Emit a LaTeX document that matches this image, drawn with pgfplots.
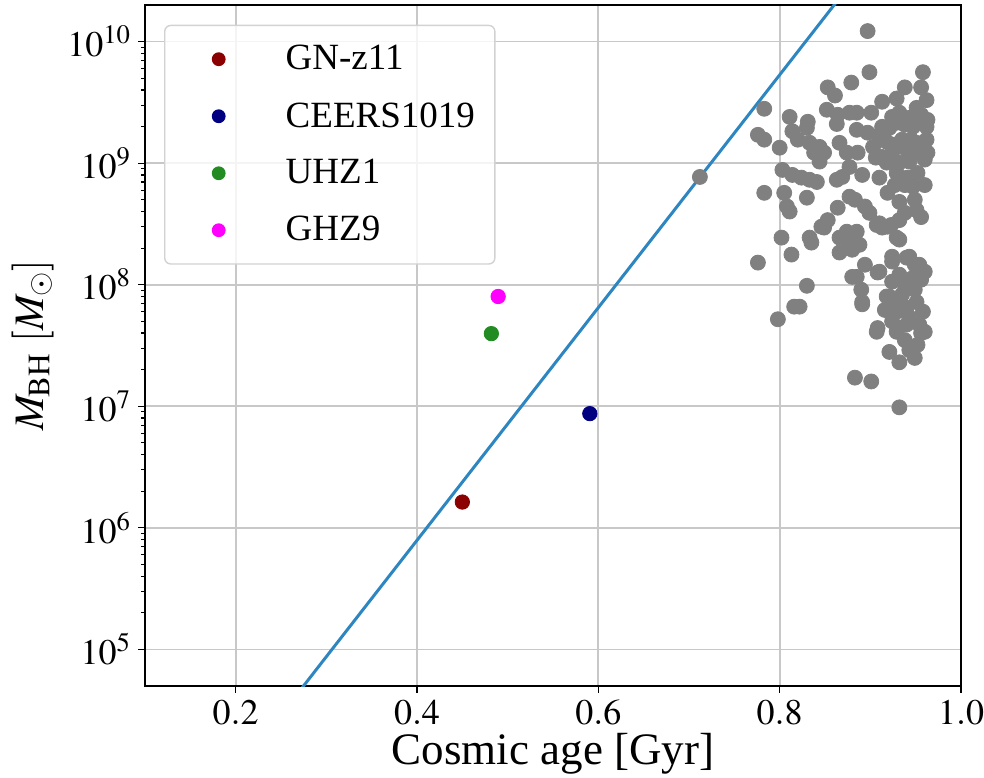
\documentclass[border=0pt]{standalone}
\usepackage{mathptmx}
\usepackage{fontspec}
\setmainfont{Liberation Serif}
\usepackage{pgfplots}
\pgfplotsset{compat=1.18}
\usetikzlibrary{calc}

\definecolor{linecol}{HTML}{2E86C1}
\definecolor{ptgray}{HTML}{808080}
\definecolor{gridgray}{HTML}{C8C8C8}
\definecolor{gnred}{HTML}{8B0000}
\definecolor{ceersblue}{HTML}{000080}
\definecolor{uhzgreen}{HTML}{228B22}
\definecolor{ghzmag}{HTML}{FF00FF}

% quasar black-hole masses versus cosmic age (Gyr, M_sun)
\pgfplotstableread{
t m
0.897 1.22e10
0.899 5.6e9
0.958 5.6e9
0.956 4.2e9
0.938 4.2e9
0.929 3.4e9
0.913 3.2e9
0.879 4.6e9
0.853 4.2e9
0.861 3.6e9
0.783 2.8e9
0.811 2.4e9
0.852 2.75e9
0.864 2.5e9
0.877 2.6e9
0.831 2.19e9
0.885 2.6e9
0.901 2.6e9
0.932 2.6e9
0.951 2.85e9
0.956 2.5e9
0.924 2.4e9
0.943 2.36e9
0.963 2.27e9
0.962 3.3e9
0.938 2.07e9
0.776 1.71e9
0.783 1.56e9
0.800 1.34e9
0.814 1.83e9
0.830 1.95e9
0.820 1.56e9
0.833 1.47e9
0.844 1.36e9
0.838 1.22e9
0.849 1.22e9
0.844 1.03e9
0.866 1.47e9
0.874 1.22e9
0.877 9.3e8
0.885 1.88e9
0.897 1.78e9
0.913 1.99e9
0.929 2.15e9
0.947 1.99e9
0.962 1.99e9
0.962 1.56e9
0.951 1.47e9
0.935 1.56e9
0.918 1.5e9
0.903 1.36e9
0.912 1.13e9
0.924 1.22e9
0.940 1.29e9
0.954 1.22e9
0.963 1.22e9
0.886 1.22e9
0.932 1.01e9
0.918 1.01e9
0.943 1.03e9
0.863 2.1e9
0.906 1.11e9
0.960 1.07e9
0.803 8.8e8
0.814 8.0e8
0.824 7.6e8
0.833 7.3e8
0.841 7.0e8
0.863 7.3e8
0.869 7.7e8
0.783 5.7e8
0.805 5.7e8
0.808 4.4e8
0.811 4.0e8
0.830 5.2e8
0.864 4.3e8
0.853 3.4e8
0.846 3.0e8
0.877 5.3e8
0.891 8.0e8
0.910 7.6e8
0.929 8.3e8
0.941 7.6e8
0.952 8.3e8
0.960 6.6e8
0.947 6.4e8
0.919 5.7e8
0.932 4.8e8
0.949 5.0e8
0.883 5.0e8
0.894 4.4e8
0.899 3.9e8
0.951 4.1e8
0.956 3.6e8
0.938 3.9e8
0.932 3.4e8
0.910 3.2e8
0.919 3.0e8
0.802 2.44e8
0.833 2.44e8
0.835 2.22e8
0.849 2.95e8
0.813 1.77e8
0.776 1.52e8
0.830 9.8e7
0.816 6.6e7
0.822 6.6e7
0.798 5.2e7
0.866 2.44e8
0.874 2.73e8
0.866 1.84e8
0.877 2.13e8
0.880 1.16e8
0.885 2.73e8
0.888 2.13e8
0.880 1.94e8
0.913 2.95e8
0.929 2.44e8
0.923 3.1e8
0.894 1.46e8
0.885 1.16e8
0.890 9.1e7
0.891 6.9e7
0.908 4.4e7
0.910 1.28e8
0.924 1.55e8
0.940 1.67e8
0.954 1.46e8
0.960 1.28e8
0.932 1.21e8
0.947 1.14e8
0.924 1.06e8
0.956 1.10e8
0.921 8.0e7
0.935 8.3e7
0.951 7.2e7
0.958 6.0e7
0.929 6.0e7
0.940 6.5e7
0.924 5.0e7
0.940 4.7e7
0.954 4.7e7
0.960 4.1e7
0.932 2.35e8
0.907 3.1e8
0.907 4.1e7
0.929 4.1e7
0.956 4.0e7
0.921 2.8e7
0.932 2.3e7
0.943 2.9e7
0.949 2.5e7
0.883 1.72e7
0.901 1.6e7
0.932 9.8e6
0.712 7.7e8
0.910 1.71e9
0.927 1.42e9
0.945 1.56e9
0.954 2.27e9
0.921 1.95e9
0.938 6.6e8
0.927 6.6e8
0.949 1.46e8
0.938 1.0e8
0.949 9.1e7
0.927 7.5e7
0.943 5.4e7
0.916 6.2e7
0.938 3.5e7
0.952 3.2e7
0.891 7.2e7
0.918 8.0e7
0.924 1.70e8
0.943 1.70e8
0.908 1.26e8
}\quasars

\begin{document}
\begin{tikzpicture}
\begin{axis}[
  scale only axis,
  width=408pt, height=340.5pt,
  ymode=log,
  xmin=0.1, xmax=1.0,
  ymin=5e4, ymax=2e10,
  xtick={0.2,0.4,0.6,0.8,1.0},
  ytick={1e5,1e6,1e7,1e8,1e9,1e10},
  xticklabel style={/pgf/number format/.cd, fixed, fixed zerofill, precision=1},
  tick label style={font=\rmfamily\fontsize{18}{21}\selectfont, black},
  xlabel style={font=\rmfamily\fontsize{22.5}{26}\selectfont, yshift=3pt},
  ylabel style={font=\rmfamily\fontsize{21}{25}\selectfont},
  xlabel={Cosmic age [Gyr]},
  ylabel={$M_{\mathrm{BH}}$ $[M_\odot]$},
  tick pos=left,
  tick align=outside,
  major tick length=3.5pt,
  minor tick length=2pt,
  every tick/.style={black, line width=0.6pt},
  axis line style={black, line width=0.9pt},
  grid=major,
  major grid style={gridgray, line width=0.9pt},
  legend cell align=left,
  legend style={
    at={(0.0233,0.971)}, anchor=north west,
    draw=gray!35, rounded corners=3pt, line width=0.7pt,
    fill=white, fill opacity=0.8, draw opacity=1, text opacity=1,
    font=\rmfamily\fontsize{18.5}{22}\selectfont,
    inner xsep=8pt, inner ysep=8pt,
    row sep=10.75pt,
  },
  legend image code/.code={%
    \path[draw=none, fill=none] (0pt,-4pt) rectangle (50.5pt,4pt);
    \draw[#1, mark size=3.1pt, fill opacity=1, draw opacity=1] plot coordinates {(19pt,0pt)};
  },
]
% Eddington-limited growth track
\addplot[linecol, line width=1.5pt, forget plot] coordinates {(0.27,4.5e4) (0.87,2.49e10)};
% quasar sample
\addplot[only marks, mark=*, mark size=3.75pt, color=ptgray, forget plot] table[x=t, y=m] {\quasars};
% high-redshift sources
\addplot[only marks, mark=*, mark size=3.6pt, color=gnred] coordinates {(0.450,1.63e6)};
\addlegendentry{GN-z11}
\addplot[only marks, mark=*, mark size=3.6pt, color=ceersblue] coordinates {(0.5906,8.7e6)};
\addlegendentry{CEERS1019}
\addplot[only marks, mark=*, mark size=3.6pt, color=uhzgreen] coordinates {(0.482,3.96e7)};
\addlegendentry{UHZ1}
\addplot[only marks, mark=*, mark size=3.6pt, color=ghzmag] coordinates {(0.4895,8.0e7)};
\addlegendentry{GHZ9}
\end{axis}
\pgfresetboundingbox
\path ($(current axis.south west)+(-72.5pt,-45.5pt)$) rectangle ($(current axis.north east)+(11.5pt,2.5pt)$);
\end{tikzpicture}
\end{document}
